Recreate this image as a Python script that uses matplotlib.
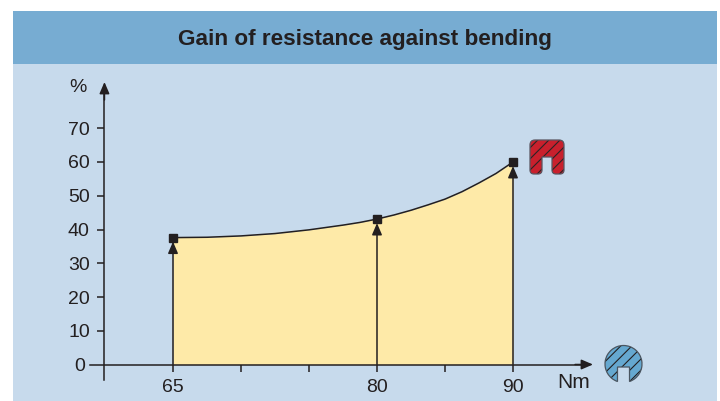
import matplotlib
matplotlib.use("Agg")
import matplotlib.pyplot as plt
from matplotlib.patches import Rectangle, PathPatch
from matplotlib.path import Path
from matplotlib.transforms import Affine2D, ScaledTranslation

plt.rcParams["font.family"] = ["Liberation Sans", "DejaVu Sans"]
plt.rcParams["hatch.linewidth"] = 0.8

title = "Gain of resistance against bending"
curve_x = [65, 67.5, 70, 72.5, 75, 77.5, 78.75, 80, 81.25, 82.5, 83.75, 85, 86.25, 87.5, 88.75, 90]
curve_y = [37.6, 37.7, 38.1, 38.8, 39.9, 41.3, 42.1, 43.1, 44.3, 45.7, 47.3, 49.0, 51.2, 53.8, 56.6, 60.0]
point_x = [65, 80, 90]
point_y = [37.6, 43.1, 60.0]
x_ticks = [65, 70, 75, 80, 85, 90]
x_labels = ["65", "", "", "80", "", "90"]
y_ticks = [0, 10, 20, 30, 40, 50, 60, 70]

dark = "#231f20"
W, H = 720, 401
head = "-|>,head_length=0.7,head_width=0.3"

fig = plt.figure(figsize=(W / 100, H / 100), dpi=100, facecolor="white")
px = Affine2D().scale(1, -1).translate(0, H)  # reference pixels, y down


def rect(x0, y0, x1, y1, color):
    fig.patches.append(Rectangle((x0, y1), x1 - x0, y0 - y1, transform=px, zorder=-2,
                                 facecolor=color, edgecolor="none", figure=fig))


rect(13, 11, 717, 401, "#c7daec")
rect(13, 11, 717, 64, "#77acd2")
fig.text(364.5, H - 40, title, transform=Affine2D(), ha="center", va="center",
         fontsize=16.2, fontweight="bold", color=dark)

# axes cover the whole figure, scale: 13.6 px per Nm, 3.375 px per %
ax = fig.add_axes([0, 0, 1, 1], facecolor="none")
ax.set_xlim(65 - 173 / 13.6, 65 + (W - 173) / 13.6)
ax.set_ylim((364.5 - H) / 3.375, 364.5 / 3.375)

ax.fill_between(curve_x, 0, curve_y, color="#feeaa8", lw=0, zorder=1)
ax.plot(curve_x, curve_y, color=dark, lw=1.1, zorder=3)
ax.plot(point_x, point_y, "s", color=dark, ms=5.6, zorder=5)
for x, y in zip(point_x, point_y):
    ax.annotate("", xy=(x, y - 1.2), xytext=(x, 0), zorder=4,
                arrowprops=dict(arrowstyle=head, color=dark, lw=1.1, shrinkA=0, shrinkB=0))

for s in ["top", "right"]:
    ax.spines[s].set_visible(False)
ax.spines["bottom"].set_position(("data", 0))
ax.spines["left"].set_position(("data", 59.96))
ax.spines["bottom"].set_bounds(65 + (90 - 173) / 13.6, 65 + (585 - 173) / 13.6)
ax.spines["left"].set_bounds((364.5 - 380) / 3.375, (364.5 - 90) / 3.375)
for s in ["bottom", "left"]:
    ax.spines[s].set_color(dark)
    ax.spines[s].set_linewidth(1.1)
    ax.spines[s].set_zorder(6)

ax.set_xticks(x_ticks, x_labels)
ax.set_yticks(y_ticks)
ax.tick_params(axis="both", direction="out", length=5, width=1.1, color=dark,
               labelcolor=dark, labelsize=14, pad=5.5)
ax.get_yticklines()[0].set_visible(False)

# the zero sits further left, clear of the x axis line
zero = ax.get_yticklabels()[0]
zero.set_transform(zero.get_transform() + ScaledTranslation(-5 / 100, 0, fig.dpi_scale_trans))

# axis arrow heads
ax.annotate("", xy=(65 + (593 - 173) / 13.6, 0), xytext=(65 + (575 - 173) / 13.6, 0),
            arrowprops=dict(arrowstyle=head, color=dark, lw=1.1, shrinkA=0, shrinkB=0), zorder=6)
ax.annotate("", xy=(59.96, (364.5 - 82) / 3.375), xytext=(59.96, (364.5 - 100) / 3.375),
            arrowprops=dict(arrowstyle=head, color=dark, lw=1.1, shrinkA=0, shrinkB=0), zorder=6)

fig.text(78, H - 87, "%", transform=Affine2D(), ha="center", va="center",
         fontsize=14, color=dark)
fig.text(573.5, H - 383, "Nm", transform=Affine2D(), ha="center", va="center",
         fontsize=15, color=dark)

# red profile icon
M, L, C, Z = Path.MOVETO, Path.LINETO, Path.CURVE3, Path.CLOSEPOLY
red_v = [(535, 140), (559, 140), (564, 140), (564, 145), (564, 170), (564, 174), (560, 174),
         (556, 174), (552, 174), (552, 170), (552, 157), (542, 157), (542, 170), (542, 174),
         (538, 174), (534, 174), (530, 174), (530, 170), (530, 145), (530, 140), (535, 140)]
red_c = [M, L, C, C, L, C, C, L, C, C, L, L, L, C, C, L, C, C, L, C, C]
ax.add_patch(PathPatch(Path(red_v, red_c), transform=px, facecolor="#c8202d",
                       edgecolor="#2b2426", hatch="///", lw=0, zorder=5))
ax.add_patch(PathPatch(Path(red_v, red_c), transform=px, facecolor="none",
                       edgecolor="#5a5560", lw=0.9, zorder=6))

# blue profile icon, a circle with a notch at the bottom
cx, cy, r = 623.5, 364, 18.5
arc = Path.arc(-71, 251)
blue_v = [(cx + x * r, cy - y * r) for x, y in arc.vertices]
blue_v += [(cx - 6, 367), (cx + 6, 367), blue_v[0], blue_v[0]]
blue_c = list(arc.codes) + [L, L, L, Z]
ax.add_patch(PathPatch(Path(blue_v, blue_c), transform=px, facecolor="#65a8d0",
                       edgecolor=dark, hatch="///", lw=0, zorder=5))
ax.add_patch(PathPatch(Path(blue_v, blue_c), transform=px, facecolor="none",
                       edgecolor="#4a5560", lw=0.9, zorder=6))

fig.savefig("out.png", dpi=100)
